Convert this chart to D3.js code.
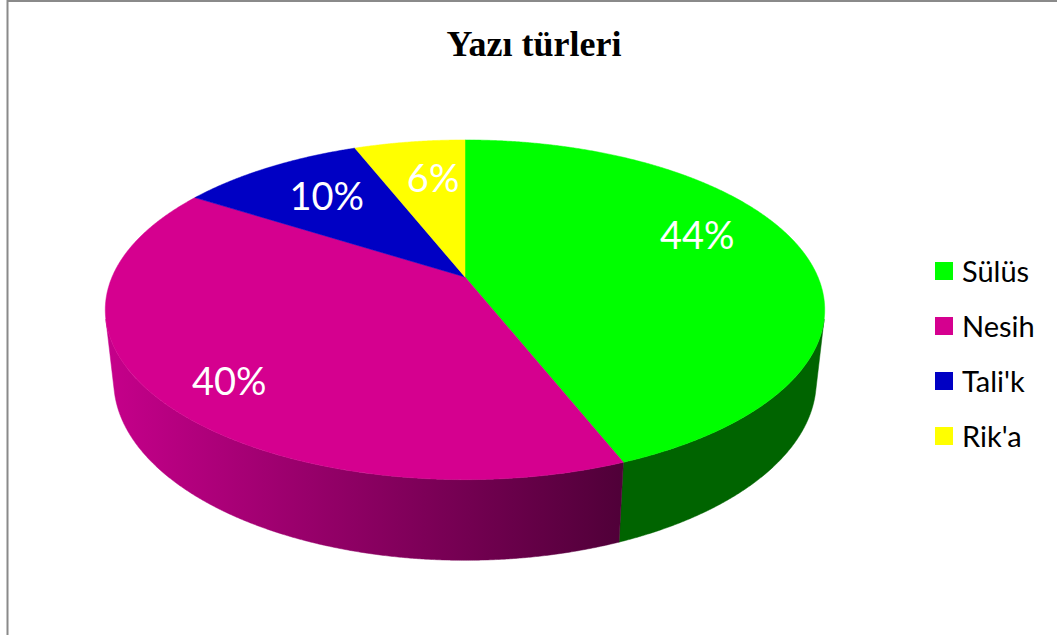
<!DOCTYPE html>
<html>
<head>
<meta charset="utf-8">
<script src="https://cdn.jsdelivr.net/npm/d3@7/dist/d3.min.js"></script>
<style>
  html, body { margin: 0; padding: 0; background: #fff; }
  svg { display: block; }
</style>
</head>
<body>
<svg id="chart" width="1057" height="635"></svg>
<script>
// Writing styles and their share (%)
const categories = ["Sülüs", "Nesih", "Tali'k", "Rik'a"];
const values = [44, 40, 10, 6];
const labels = ["44%", "40%", "10%", "6%"];
const topColors = ["#00ff00", "#d5008f", "#0000c4", "#ffff00"];
const title = "Yazı türleri";

const svg = d3.select("#chart");

// Frame (only top and left edges fall inside the view)
svg.append("rect")
  .attr("x", 7.5).attr("y", 1).attr("width", 1200).attr("height", 800)
  .attr("fill", "#fff").attr("stroke", "#8a8a8a").attr("stroke-width", 2);

svg.append("text")
  .attr("x", 534).attr("y", 56)
  .attr("text-anchor", "middle")
  .style("font-family", "'Liberation Serif', 'Times New Roman', serif")
  .style("font-weight", "bold")
  .style("font-size", "36px")
  .text(title);

// --- perspective projection of a unit-radius disc viewed from above ---
const cx = 465, cy = 277;          // screen position of the disc centre
const alpha = 27.6 * Math.PI / 180; // elevation of the eye
const sa = Math.sin(alpha), ca = Math.cos(alpha);
const Dist = 4.59;                  // eye distance (in radii)
const focal = 1620;                 // focal length (px per radius at unit depth)
const thick = 0.229;                // disc thickness (in radii)

function project(phi, depth, r = 1) {
  const x = r * Math.sin(phi), w = -r * Math.cos(phi), y = -depth;
  const zc = Dist - y * sa - w * ca;
  const yc = y * ca - w * sa;
  return [cx + focal * x / zc, cy - focal * yc / zc];
}

const color = d3.scaleOrdinal().domain(categories).range(topColors);
const pie = d3.pie().sort(null).value(d => d.value);
const arcs = pie(categories.map((c, i) => ({ name: c, value: values[i], label: labels[i] })));

// Outer wall faces the eye only where cos(phi) < -R / (D cos(alpha))
const visLo = Math.acos(-1 / (Dist * ca));
const visHi = 2 * Math.PI - visLo;

const defs = svg.append("defs");
const sideShade = {
  "Sülüs": "#006400",
  "Nesih": "url(#nesihSide)",
  "Tali'k": "#000070",
  "Rik'a": "#909000"
};
const g1 = defs.append("linearGradient").attr("id", "nesihSide")
  .attr("gradientUnits", "userSpaceOnUse")
  .attr("x1", 104).attr("y1", 0).attr("x2", 630).attr("y2", 0);
g1.append("stop").attr("offset", "0").attr("stop-color", "#c6008b");
g1.append("stop").attr("offset", "1").attr("stop-color", "#4e0037");

const line = d3.line();
const step = Math.PI / 720;

function sampleAngles(a0, a1) {
  const pts = [];
  const n = Math.max(2, Math.ceil((a1 - a0) / step));
  for (let i = 0; i <= n; i++) pts.push(a0 + (a1 - a0) * i / n);
  return pts;
}

// Walls
const walls = svg.append("g");
arcs.forEach(a => {
  const a0 = Math.max(a.startAngle, visLo), a1 = Math.min(a.endAngle, visHi);
  if (a1 <= a0) return;
  const angs = sampleAngles(a0, a1);
  const topPts = angs.map(p => project(p, 0));
  const botPts = angs.slice().reverse().map(p => project(p, thick));
  walls.append("path")
    .attr("d", line(topPts.concat(botPts)) + "Z")
    .attr("fill", sideShade[a.data.name])
    .attr("stroke", sideShade[a.data.name]).attr("stroke-width", 0.5);
});

// Top faces
const tops = svg.append("g");
arcs.forEach(a => {
  const angs = sampleAngles(a.startAngle, a.endAngle);
  const pts = [project(0, 0, 0)].concat(angs.map(p => project(p, 0)));
  tops.append("path")
    .attr("d", line(pts) + "Z")
    .attr("fill", color(a.data.name))
    .attr("stroke", color(a.data.name)).attr("stroke-width", 0.5);
});

// Percentage labels: placed on the slice bisector, then nudged clear of the rim
const labelNudge = { "Sülüs": [-11, -21], "Nesih": [-21, 21], "Tali'k": [8, 0], "Rik'a": [10, 2] };
const lab = svg.append("g");
arcs.forEach(a => {
  const mid = (a.startAngle + a.endAngle) / 2;
  const [lx, ly] = project(mid, 0, 0.72);
  const [nx, ny] = labelNudge[a.data.name];
  lab.append("text")
    .attr("x", lx + nx).attr("y", ly + ny)
    .attr("text-anchor", "middle")
    .attr("dominant-baseline", "central")
    .attr("fill", "#fff")
    .style("font-family", "Lato, 'Open Sans', sans-serif")
    .style("font-size", "38px")
    .text(a.data.label);
});

// Legend
const legend = svg.append("g").attr("transform", "translate(935,262)");
categories.forEach((c, i) => {
  const g = legend.append("g").attr("transform", `translate(0,${i * 55})`);
  g.append("rect").attr("width", 18).attr("height", 18).attr("fill", color(c));
  g.append("text")
    .attr("x", 27).attr("y", 20)
    .style("font-family", "Lato, 'Open Sans', sans-serif")
    .style("font-size", "29px")
    .attr("fill", "#000")
    .text(c);
});
</script>
</body>
</html>
